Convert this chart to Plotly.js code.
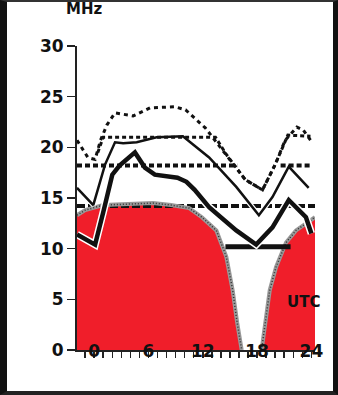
<!DOCTYPE html>
<html>
<head>
<meta charset="utf-8">
<script src="https://cdn.plot.ly/plotly-3.0.1.min.js"></script>
<style>
  html, body { margin: 0; padding: 0; background: #fff; }
  #wrap { position: relative; width: 338px; height: 395px; overflow: hidden; }
  #chart { width: 338px; height: 395px; }
  #frame { position: absolute; left: 0; top: 0; width: 338px; height: 395px; box-sizing: border-box;
           border-left: 7px solid #111; border-right: 5px solid #111; border-bottom: 4px solid #222; border-top: 2px solid #333;
           pointer-events: none; }
</style>
</head>
<body>
<div id="wrap"><div id="chart"></div><div id="frame"></div></div>
<script>
// Hours (UTC) and frequencies (MHz)
const redHours  = [-1.9, -1.0, 1.0, 6.5, 8.5, 10.5, 11.9, 13.5, 14.6, 15.3, 15.8, 16.3, 18.5, 19.4, 20.1, 21.2, 22.3, 23.4, 24.4];
const redValues = [13.3, 13.8, 14.3, 14.5, 14.3, 14.0, 13.1, 11.8, 9.2, 5.9, 2.7, 0, 0, 5.9, 8.2, 10.6, 11.8, 12.5, 13.1];

const upperDotHours  = [-1.9, -0.7, 0.1, 0.7, 1.4, 2.3, 4.3, 6.2, 8.9, 10.1, 12.3, 14.5, 16.7, 18.6, 20.0, 21.1, 22.4, 23.1, 23.9];
const upperDotValues = [20.7, 19.0, 18.8, 20.7, 22.2, 23.4, 23.1, 23.9, 24.0, 23.7, 21.9, 19.3, 16.8, 15.8, 18.3, 20.7, 22.0, 21.7, 20.7];

const lowerDotHours  = [0.4, 1.0, 13.4, 14.6, 16.7, 18.6, 20.0, 21.4, 23.9];
const lowerDotValues = [19.5, 21.0, 21.0, 19.3, 16.8, 15.8, 18.3, 21.2, 21.1];

const thinHours  = [-1.9, -0.1, 1.2, 2.3, 3.2, 4.7, 6.9, 9.8, 12.7, 15.7, 18.2, 19.7, 21.5, 23.7];
const thinValues = [16.0, 14.3, 18.3, 20.5, 20.4, 20.5, 21.0, 21.1, 19.0, 16.1, 13.3, 15.1, 18.1, 16.0];

const thickHours  = [-1.9, 0.1, 1.0, 2.0, 2.8, 4.5, 5.6, 6.7, 9.2, 10.2, 11.1, 12.7, 15.7, 17.9, 19.7, 21.5, 23.4, 24.0];
const thickValues = [11.4, 10.4, 13.6, 17.3, 18.2, 19.5, 18.0, 17.3, 17.0, 16.6, 15.8, 14.1, 11.8, 10.4, 12.1, 14.8, 13.1, 11.5];

const line18Hours  = [-1.9, 15.8, null, 20.6, 24.0];
const line18Values = [18.2, 18.2, null, 18.2, 18.2];

const line14Hours  = [-1.9, 24.4];
const line14Values = [14.2, 14.2];

const line10Hours  = [14.5, 21.7];
const line10Values = [10.2, 10.2];

const xTickVals = [-1,0,1,2,3,4,5,6,7,8,9,10,11,12,13,14,15,16,17,18,19,20,21,22,23,24];
const xTickText = xTickVals.map(v => (v % 6 === 0 ? String(v) : ''));
const yTickVals = [0, 5, 10, 15, 20, 25, 30];

const xRange = [-1.9, 24.4];
const yRange = [0, 30];

const fontFam = 'DejaVu Sans, Liberation Sans, Arial, sans-serif';
const tickFont = {family: fontFam, size: 17, color: '#111', weight: 'bold'};

const traces = [
  {x: redHours, y: redValues, mode: 'lines', fill: 'tozeroy', fillcolor: '#f01e2a',
   line: {width: 0, color: 'rgba(0,0,0,0)'}, hoverinfo: 'skip'},
  {x: line14Hours, y: line14Values, mode: 'lines', line: {color: '#111', width: 4, dash: '8px,3px'}},
  {x: redHours.slice(0, 12), y: redValues.slice(0, 12), mode: 'lines', line: {color: '#999', width: 4}},
  {x: redHours.slice(12), y: redValues.slice(12), mode: 'lines', line: {color: '#999', width: 4}},
  {x: redHours.slice(0, 12), y: redValues.slice(0, 12), mode: 'lines', line: {color: '#333', width: 1.5, dash: '1px,2px'}},
  {x: redHours.slice(12), y: redValues.slice(12), mode: 'lines', line: {color: '#333', width: 1.5, dash: '1px,2px'}},
  {x: line10Hours, y: line10Values, mode: 'lines', line: {color: '#111', width: 5}},
  {x: thinHours, y: thinValues, mode: 'lines', line: {color: '#fff', width: 5}},
  {x: thickHours, y: thickValues, mode: 'lines', line: {color: '#fff', width: 7.5}},
  {x: thinHours, y: thinValues, mode: 'lines', line: {color: '#111', width: 2.5}},
  {x: thickHours, y: thickValues, mode: 'lines', line: {color: '#111', width: 4.5}},
  {x: line18Hours, y: line18Values, mode: 'lines', connectgaps: false, line: {color: '#111', width: 4, dash: '5px,3px'}},
  {x: upperDotHours, y: upperDotValues, mode: 'lines', line: {color: '#111', width: 3, dash: '4px,4px'}},
  {x: lowerDotHours, y: lowerDotValues, mode: 'lines', line: {color: '#111', width: 3, dash: '4px,3px'}}
];

const layout = {
  width: 338, height: 395,
  margin: {l: 77, r: 23, t: 46, b: 45},
  paper_bgcolor: '#fff', plot_bgcolor: '#fff',
  showlegend: false,
  xaxis: {range: xRange, tickmode: 'array', tickvals: xTickVals, ticktext: xTickText,
          ticks: 'outside', ticklen: 6, tickwidth: 1.5, tickcolor: '#222',
          showline: true, linecolor: '#222', linewidth: 2, showgrid: false, zeroline: false,
          tickfont: tickFont, ticklabelstandoff: -21, fixedrange: true},
  xaxis2: {range: xRange, overlaying: 'x', anchor: 'y', side: 'bottom', tickmode: 'array', tickvals: xTickVals,
           ticks: 'inside', ticklen: 6, tickwidth: 1.5, tickcolor: '#222', showticklabels: false,
           showline: false, showgrid: false, zeroline: false},
  yaxis: {range: yRange, tickmode: 'array', tickvals: yTickVals, ticks: 'outside', ticklen: 8, tickwidth: 1.5,
          tickcolor: '#222', showline: true, linecolor: '#222', linewidth: 2, showgrid: false, zeroline: false,
          tickfont: tickFont},
  yaxis2: {range: yRange, overlaying: 'y', anchor: 'x', side: 'left', tickmode: 'array', tickvals: yTickVals,
           ticks: 'inside', ticklen: 7, tickwidth: 1.5, tickcolor: '#222', showticklabels: false,
           showline: false, showgrid: false, zeroline: false},
  annotations: [
    {text: 'MHz', xref: 'paper', yref: 'paper', x: 0.03, y: 1.122, xanchor: 'center', yanchor: 'middle', showarrow: false,
     font: {family: fontFam, size: 15, color: '#111', weight: 'bold'}},
    {text: 'UTC', xref: 'x', yref: 'y', x: 23.1, y: 4.7, xanchor: 'center', yanchor: 'middle', showarrow: false,
     font: {family: fontFam, size: 15, color: '#111', weight: 'bold'}}
  ]
};

Plotly.newPlot('chart', traces, layout, {staticPlot: true, displayModeBar: false});
</script>
</body>
</html>
